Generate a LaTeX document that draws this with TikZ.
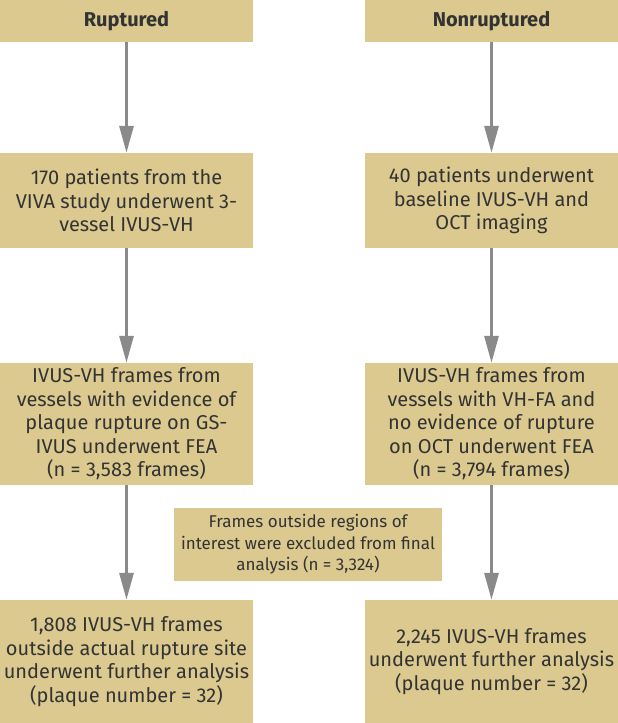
\documentclass[tikz,border=0pt]{standalone}
\usepackage{fontspec}
\setmainfont{Fira Sans}
\usetikzlibrary{arrows.meta}
\definecolor{boxfill}{RGB}{219,201,143}
\definecolor{txt}{RGB}{51,51,51}
\definecolor{arr}{RGB}{138,138,138}
\begin{document}
\begin{tikzpicture}[x=1pt,y=-1pt,
 box/.style={fill=boxfill, draw=none, inner sep=0pt, align=center, text=txt, minimum width=253pt, font=\fontsize{20}{23.5}\selectfont},
 hdr/.style={box, minimum height=42pt, font=\fontsize{20}{24}\selectfont\bfseries},
 arrowline/.style={draw=arr, line width=3pt, -{Triangle[length=27pt,width=14pt]}}]
\useasboundingbox (0,0) rectangle (618,723);
\node[hdr] (h1) at (126.5,21) {Ruptured};
\node[hdr] (h2) at (491.5,21) {Nonruptured};
\node[box, minimum height=95pt] (b1) at (126.5,200.5) {170 patients from the\\VIVA study underwent 3-\\vessel IVUS-VH};
\node[box, minimum height=95pt] (b2) at (491.5,200.5) {40 patients underwent\\baseline IVUS-VH and\\OCT imaging};
\node[box, minimum height=122pt] (c1) at (126.5,424) {IVUS-VH frames from\\vessels with evidence of\\plaque rupture on GS-\\IVUS underwent FEA\\(n = 3,583 frames)};
\node[box, minimum height=122pt] (c2) at (491.5,424) {IVUS-VH frames from\\vessels with VH-FA and\\no evidence of rupture\\on OCT underwent FEA\\(n = 3,794 frames)};
\node[box, minimum width=268pt, minimum height=73pt, font=\fontsize{17}{21.5}\selectfont] (m) at (308,544.5) {Frames outside regions of\\interest were excluded from final\\analysis (n = 3,324)};
\node[box, minimum height=123pt] (d1) at (126.5,661.5) {1,808 IVUS-VH frames\\outside actual rupture site\\underwent further analysis\\(plaque number = 32)};
\node[box, minimum height=123pt] (d2) at (491.5,661.5) {2,245 IVUS-VH frames\\underwent further analysis\\(plaque number = 32)};
\draw[arrowline] (h1.south) -- (b1.north);
\draw[arrowline] (h2.south) -- (b2.north);
\draw[arrowline] (b1.south) -- (c1.north);
\draw[arrowline] (b2.south) -- (c2.north);
\draw[arrowline] (c1.south) -- (d1.north);
\draw[arrowline] (c2.south) -- (d2.north);
\end{tikzpicture}
\end{document}
